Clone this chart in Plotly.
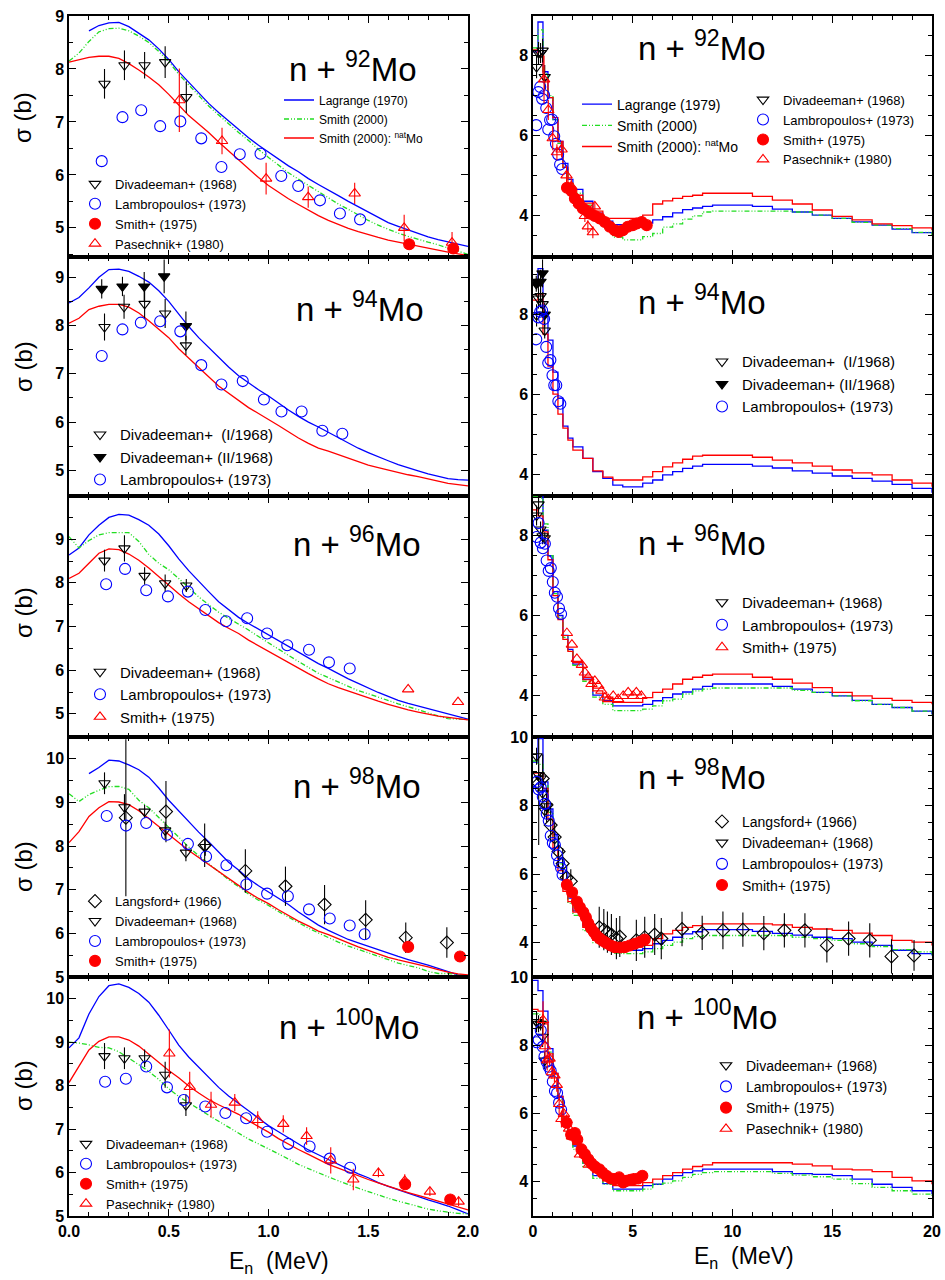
import plotly.graph_objects as go

FONT = "Liberation Sans, Arial, Helvetica, sans-serif"
BLUE = "#0000ff"
RED = "#ff0000"
GREEN = "#22dd22"
BLACK = "#000000"
GDASH = "5px,2px,1px,2px,1px,2px"

# ---------------- energy grids (MeV) ----------------
XL = [0.00, 0.05, 0.10, 0.15, 0.20, 0.25, 0.30, 0.35, 0.40, 0.45, 0.50, 0.55, 0.60, 0.65, 0.70,
      0.75, 0.80, 0.85, 0.90, 0.95, 1.00, 1.05, 1.10, 1.15, 1.20, 1.25, 1.30, 1.35, 1.40, 1.45,
      1.50, 1.55, 1.60, 1.65, 1.70, 1.75, 1.80, 1.85, 1.90, 1.95, 2.00]
XR = [0, 0.25, 0.5, 0.75, 1.0, 1.25, 1.5, 1.75, 2.0, 2.5, 3.0, 3.5, 4.0, 4.5, 5.0, 5.5, 6.0,
      6.5, 7.0, 7.5, 8.0, 8.5, 9.0, 10, 11, 12, 13, 14, 15, 16, 17, 18, 19, 20]

# ---------------- evaluated curves, 0-2 MeV ----------------
L92_LAG = [None, None, 8.72, 8.82, 8.87, 8.88, 8.80, 8.68, 8.55, 8.38, 8.18, 7.95, 7.75, 7.53, 7.35,
           7.18, 7.02, 6.85, 6.70, 6.56, 6.43, 6.30, 6.17, 6.06, 5.93, 5.82, 5.72, 5.61, 5.50, 5.40,
           5.29, 5.19, 5.10, 5.03, 4.96, 4.89, 4.83, 4.78, 4.74, 4.70, 4.65]
L92_S00 = [8.15, 8.30, 8.52, 8.70, 8.76, 8.77, 8.72, 8.62, 8.50, 8.33, 8.14, 7.90, 7.70, 7.50, 7.30,
           7.13, 6.96, 6.80, 6.65, 6.48, 6.33, 6.18, 6.04, 5.92, 5.80, 5.68, 5.57, 5.45, 5.35, 5.24,
           5.14, 5.05, 4.97, 4.90, 4.84, 4.78, 4.73, 4.68, 4.62, 4.56, 4.50]
L92_NAT = [8.13, 8.17, 8.22, 8.24, 8.24, 8.20, 8.10, 7.98, 7.85, 7.70, 7.52, 7.32, 7.12, 6.96, 6.80,
           6.62, 6.45, 6.28, 6.12, 5.95, 5.80, 5.67, 5.55, 5.44, 5.33, 5.23, 5.14, 5.06, 4.99, 4.93,
           4.87, 4.82, 4.77, 4.73, 4.69, 4.65, 4.61, 4.58, 4.54, 4.51, 4.48]

L94_LAG = [8.47, 8.58, 8.78, 9.00, 9.16, 9.17, 9.12, 9.02, 8.90, 8.72, 8.50, 8.24, 7.98, 7.75, 7.54,
           7.33, 7.14, 6.96, 6.81, 6.67, 6.54, 6.39, 6.25, 6.12, 6.00, 5.90, 5.79, 5.68, 5.56, 5.46,
           5.37, 5.28, 5.20, 5.12, 5.05, 4.99, 4.93, 4.88, 4.83, 4.81, 4.80]
L94_NAT = [8.05, 8.15, 8.33, 8.40, 8.44, 8.44, 8.38, 8.26, 8.10, 7.93, 7.75, 7.52, 7.32, 7.13, 6.94,
           6.75, 6.60, 6.45, 6.30, 6.18, 6.06, 5.93, 5.80, 5.67, 5.56, 5.46, 5.40, 5.33, 5.25, 5.18,
           5.11, 5.06, 5.01, 4.95, 4.91, 4.87, 4.83, 4.78, 4.73, 4.70, 4.68]

L96_LAG = [8.64, 8.80, 9.10, 9.32, 9.50, 9.57, 9.55, 9.45, 9.32, 9.12, 8.85, 8.55, 8.28, 8.03, 7.80,
           7.57, 7.38, 7.21, 7.07, 6.94, 6.81, 6.67, 6.54, 6.41, 6.28, 6.15, 6.04, 5.92, 5.80, 5.70,
           5.59, 5.49, 5.40, 5.31, 5.24, 5.18, 5.11, 5.05, 4.99, 4.93, 4.88]
L96_S00 = [9.06, 8.80, 8.97, 9.10, 9.15, 9.15, 9.15, 8.95, 8.65, 8.45, 8.30, 8.10, 7.88, 7.68, 7.50,
           7.33, 7.19, 7.06, 6.92, 6.77, 6.62, 6.48, 6.34, 6.20, 6.06, 5.93, 5.83, 5.73, 5.62, 5.53,
           5.46, 5.38, 5.30, 5.23, 5.16, 5.10, 5.02, 4.96, 4.89, 4.88, 4.87]
L96_NAT = [8.10, 8.22, 8.45, 8.68, 8.78, 8.76, 8.66, 8.52, 8.34, 8.14, 7.93, 7.75, 7.57, 7.41, 7.25,
           7.09, 6.96, 6.84, 6.69, 6.56, 6.43, 6.31, 6.18, 6.04, 5.92, 5.80, 5.69, 5.60, 5.52, 5.44,
           5.37, 5.29, 5.22, 5.15, 5.09, 5.04, 4.99, 4.95, 4.92, 4.89, 4.86]

L98_LAG = [None, None, 9.66, 9.80, 9.97, 9.95, 9.86, 9.75, 9.58, 9.33, 9.05, 8.80, 8.55, 8.32, 8.10,
           7.86, 7.63, 7.45, 7.25, 7.09, 6.95, 6.81, 6.66, 6.49, 6.33, 6.19, 6.07, 5.96, 5.86, 5.78,
           5.70, 5.62, 5.54, 5.47, 5.40, 5.34, 5.27, 5.20, 5.13, 5.05, 5.02]
L98_S00 = [9.20, 9.02, 9.18, 9.28, 9.36, 9.37, 9.30, 9.05, 8.88, 8.65, 8.42, 8.20, 7.98, 7.78, 7.60,
           7.40, 7.23, 7.07, 6.90, 6.76, 6.64, 6.50, 6.37, 6.24, 6.12, 6.01, 5.90, 5.80, 5.71, 5.63,
           5.55, 5.47, 5.39, 5.32, 5.26, 5.21, 5.13, 5.08, 5.08, 5.05, 5.03]
L98_NAT = [8.08, 8.33, 8.68, 8.88, 9.02, 9.01, 8.95, 8.81, 8.63, 8.44, 8.25, 8.08, 7.90, 7.74, 7.57,
           7.41, 7.26, 7.11, 6.94, 6.80, 6.68, 6.54, 6.40, 6.28, 6.17, 6.05, 5.97, 5.87, 5.78, 5.69,
           5.61, 5.52, 5.45, 5.39, 5.34, 5.29, 5.23, 5.17, 5.11, 5.07, 5.05]

L100_LAG = [8.87, 9.10, 9.65, 10.05, 10.30, 10.34, 10.26, 10.12, 9.92, 9.62, 9.28, 8.93, 8.66, 8.42,
            8.18, 7.96, 7.76, 7.58, 7.42, 7.25, 7.08, 6.94, 6.80, 6.65, 6.52, 6.41, 6.30, 6.19, 6.07,
            5.97, 5.88, 5.77, 5.68, 5.60, 5.52, 5.44, 5.37, 5.30, 5.23, 5.14, 5.05]
L100_S00 = [9.00, 8.98, 8.94, 8.88, 8.87, 8.78, 8.63, 8.48, 8.33, 8.14, 7.93, 7.75, 7.60, 7.45, 7.32,
            7.18, 7.04, 6.91, 6.77, 6.66, 6.55, 6.43, 6.31, 6.19, 6.09, 5.99, 5.90, 5.81, 5.72, 5.64,
            5.56, 5.48, 5.41, 5.34, 5.28, 5.21, 5.16, 5.12, 5.09, 5.06, 5.05]
L100_NAT = [8.07, 8.45, 8.82, 9.02, 9.12, 9.12, 9.05, 8.91, 8.72, 8.54, 8.35, 8.18, 7.99, 7.83, 7.68,
            7.56, 7.45, 7.34, 7.19, 7.06, 6.93, 6.78, 6.65, 6.53, 6.42, 6.30, 6.19, 6.10, 6.01, 5.92,
            5.84, 5.76, 5.68, 5.61, 5.54, 5.48, 5.41, 5.34, 5.27, 5.20, 5.14]

# ---------------- evaluated curves, 0-20 MeV ----------------
R92_LAG = [8.1, 8.85, 7.6, 6.95, 6.4, 5.85, 5.3, 4.9, 4.65, 4.35, 4.05, 3.85, 3.76, 3.75, 3.75, 3.8,
           3.88, 3.96, 4.06, 4.14, 4.18, 4.22, 4.25, 4.25, 4.22, 4.15, 4.08, 4.0, 3.92, 3.83, 3.75,
           3.65, 3.56, 3.54]
R92_NAT = [8.15, 8.0, 7.4, 6.95, 6.45, 5.85, 5.2, 4.8, 4.5, 4.3, 4.1, 3.92, 3.92, 3.92, 3.92, 4.0,
           4.28, 4.36, 4.42, 4.47, 4.5, 4.55, 4.55, 4.55, 4.47, 4.38, 4.28, 4.13, 3.97, 3.88, 3.78,
           3.74, 3.68, 3.62]
R92_S00 = [8.2, 8.65, 7.55, 7.0, 6.4, 5.8, 5.2, 4.8, 4.55, 4.25, 3.95, 3.7, 3.45, 3.38, 3.38, 3.46,
           3.54, 3.7, 3.78, 3.9, 3.98, 4.08, 4.1, 4.1, 4.1, 4.1, 4.08, 4.0, 3.92, 3.82, 3.75, 3.66,
           3.57, 3.5]
R94_LAG = [8.85, 9.14, 8.0, 7.35, 6.55, 5.9, 5.2, 4.9, 4.68, 4.39, 4.06, 3.89, 3.72, 3.68, 3.68,
           3.77, 3.85, 3.98, 4.06, 4.14, 4.2, 4.24, 4.24, 4.24, 4.2, 4.15, 4.08, 4.02, 3.95, 3.89,
           3.82, 3.74, 3.64, 3.53]
R94_NAT = [8.35, 8.5, 7.5, 6.7, 6.0, 5.5, 5.15, 4.85, 4.6, 4.39, 4.08, 3.92, 3.85, 3.85, 3.85, 3.93,
           4.06, 4.18, 4.28, 4.37, 4.45, 4.47, 4.47, 4.47, 4.42, 4.35, 4.28, 4.2, 4.1, 4.03, 3.98,
           3.85, 3.77, 3.68]
R96_LAG = [9.1, 9.1, 8.14, 7.5, 6.6, 6.0, 5.5, 5.15, 4.78, 4.4, 4.0, 3.86, 3.73, 3.73, 3.73, 3.77,
           3.86, 3.94, 4.03, 4.08, 4.15, 4.22, 4.28, 4.28, 4.28, 4.22, 4.15, 4.07, 3.98, 3.87, 3.77,
           3.69, 3.6, 3.52]
R96_NAT = [8.65, 8.5, 8.1, 7.4, 6.5, 5.9, 5.4, 5.1, 4.82, 4.45, 4.11, 3.95, 3.82, 3.82, 3.82, 3.94,
           4.07, 4.15, 4.28, 4.4, 4.45, 4.5, 4.53, 4.53, 4.45, 4.4, 4.3, 4.19, 4.07, 3.98, 3.92, 3.87,
           3.82, 3.77]
R96_S00 = [9.0, 8.95, 8.3, 7.5, 6.55, 5.95, 5.45, 5.1, 4.75, 4.35, 3.95, 3.77, 3.61, 3.61, 3.61, 3.65,
           3.73, 3.86, 3.9, 4.03, 4.11, 4.15, 4.18, 4.18, 4.18, 4.18, 4.12, 4.07, 3.98, 3.86, 3.77,
           3.69, 3.6, 3.5]
R98_LAG = [9.27, 9.95, 8.69, 7.9, 7.15, 6.45, 5.75, 5.3, 4.93, 4.5, 4.12, 3.95, 3.8, 3.78, 3.78, 3.83,
           3.97, 4.07, 4.16, 4.26, 4.32, 4.38, 4.38, 4.38, 4.33, 4.27, 4.22, 4.16, 4.12, 4.02, 3.92,
           3.78, 3.68, 3.63]
R98_NAT = [8.95, 8.95, 8.5, 7.6, 6.77, 6.1, 5.5, 5.2, 4.89, 4.45, 4.07, 3.9, 3.87, 3.87, 3.87, 3.92,
           4.12, 4.26, 4.36, 4.45, 4.5, 4.55, 4.55, 4.55, 4.55, 4.52, 4.45, 4.4, 4.36, 4.28, 4.21,
           4.07, 4.02, 3.92]
R98_S00 = [9.3, 9.2, 8.6, 7.8, 7.0, 6.3, 5.6, 5.15, 4.8, 4.35, 4.0, 3.85, 3.7, 3.68, 3.68, 3.73, 3.83,
           3.92, 4.02, 4.12, 4.18, 4.21, 4.21, 4.21, 4.21, 4.21, 4.16, 4.12, 4.07, 3.97, 3.89, 3.8,
           3.73, 3.63]
R100_LAG = [9.9, 9.6, 9.0, 7.9, 7.18, 6.5, 5.82, 5.34, 5.05, 4.55, 4.18, 3.95, 3.79, 3.79, 3.79, 3.89,
            3.93, 4.08, 4.18, 4.27, 4.32, 4.37, 4.37, 4.37, 4.37, 4.3, 4.24, 4.22, 4.18, 4.08, 3.93,
            3.84, 3.74, 3.64]
R100_NAT = [9.05, 9.0, 8.63, 7.75, 7.18, 6.5, 5.82, 5.43, 5.1, 4.62, 4.27, 4.03, 3.89, 3.89, 3.89,
            3.98, 4.08, 4.18, 4.27, 4.37, 4.45, 4.5, 4.56, 4.56, 4.56, 4.56, 4.52, 4.47, 4.37, 4.35,
            4.3, 4.13, 4.03, 3.93]
R100_S00 = [8.92, 8.9, 8.7, 7.8, 7.05, 6.4, 5.7, 5.25, 4.95, 4.45, 4.1, 3.93, 3.74, 3.74, 3.74, 3.79,
            3.93, 3.96, 4.03, 4.13, 4.22, 4.27, 4.3, 4.3, 4.3, 4.25, 4.2, 4.15, 4.08, 3.95, 3.84, 3.74,
            3.64, 3.55]

# ---------------- measurements ----------------
DIV92_X = [0.178, 0.278, 0.379, 0.482, 0.588]
DIV92_Y = [7.72, 8.07, 8.07, 8.13, 7.47]
DIV92_E = [0.28, 0.28, 0.25, 0.30, 0.30]
LAM92_X = [0.164, 0.268, 0.362, 0.457, 0.558, 0.663, 0.764, 0.856, 0.96, 1.064, 1.149, 1.258, 1.358, 1.459]
LAM92_Y = [6.26, 7.09, 7.22, 6.92, 7.01, 6.69, 6.15, 6.39, 6.40, 5.98, 5.79, 5.52, 5.27, 5.16]
SMI92_X = [1.705, 1.926, 2.1, 2.3, 2.5, 2.7, 2.85, 3.1, 3.35, 3.6, 3.85, 4.1, 4.3, 4.5, 4.75, 5.0, 5.2, 5.45, 5.7]
SMI92_Y = [4.69, 4.61, 4.42, 4.29, 4.17, 4.11, 4.04, 3.98, 3.92, 3.83, 3.71, 3.62, 3.58, 3.62, 3.71, 3.75, 3.79, 3.83, 3.75]
PAS92_X = [0.553, 0.767, 0.988, 1.199, 1.432, 1.68, 1.92, 2.3, 2.6, 2.75, 3.0, 3.1]
PAS92_Y = [7.41, 6.64, 5.93, 5.58, 5.65, 5.00, 4.72, 4.30, 3.98, 3.72, 3.57, 4.22]
PAS92_E = [0.6, 0.25, 0.3, 0.2, 0.2, 0.25, 0.2, 0.15, 0.15, 0.15, 0.15, 0.1]

DIV94A_X = [0.178, 0.276, 0.379, 0.482, 0.586]
DIV94A_Y = [7.97, 8.39, 8.45, 8.25, 7.59]
DIV94A_E = [0.28, 0.25, 0.3, 0.3, 0.2]
DIV94B_X = [0.164, 0.268, 0.377, 0.477, 0.586]
DIV94B_Y = [8.76, 8.81, 8.81, 9.02, 7.99]
DIV94B_E = [0.2, 0.2, 0.3, 0.35, 0.3]
LAM94_X = [0.164, 0.268, 0.36, 0.457, 0.558, 0.663, 0.764, 0.871, 0.977, 1.065, 1.166, 1.27, 1.37]
LAM94_Y = [7.37, 7.92, 8.06, 8.09, 7.88, 7.18, 6.78, 6.85, 6.47, 6.22, 6.22, 5.82, 5.76]

DIV96_X = [0.178, 0.278, 0.379, 0.482, 0.588]
DIV96_Y = [8.51, 8.79, 8.16, 7.99, 7.94]
DIV96_E = [0.25, 0.3, 0.2, 0.2, 0.15]
LAM96_X = [0.186, 0.281, 0.387, 0.496, 0.596, 0.683, 0.787, 0.893, 0.993, 1.094, 1.203, 1.303, 1.407]
LAM96_Y = [7.97, 8.32, 7.83, 7.69, 7.80, 7.38, 7.12, 7.19, 6.84, 6.57, 6.47, 6.18, 6.04]
SMT96_X = [1.70, 1.95, 2.2, 2.45, 2.6, 2.77, 2.93, 3.1, 3.27, 3.43, 3.6, 3.77, 4.02, 4.27, 4.52, 4.77, 5.02, 5.18, 5.43]
SMT96_Y = [5.56, 5.27, 4.91, 4.76, 4.57, 4.45, 4.28, 4.36, 4.24, 4.11, 3.94, 3.90, 3.98, 3.90, 3.98, 4.07, 3.98, 4.07, 3.98]

LAN98_X = [0.285, 0.486, 0.68, 0.884, 1.085, 1.281, 1.487, 1.688, 1.894, 3.32, 3.55, 3.73, 3.93, 4.18,
           4.35, 5.18, 5.6, 6.1, 6.43, 7.47, 8.48, 9.52, 10.52, 11.57, 12.6, 13.63, 14.73, 15.82, 16.88,
           17.97, 19.1]
LAN98_Y = [8.65, 8.79, 8.02, 7.43, 7.08, 6.66, 6.31, 5.90, 5.79, 4.45, 4.38, 4.31, 4.24, 4.12, 4.18,
           4.07, 4.16, 4.24, 4.12, 4.40, 4.29, 4.36, 4.38, 4.28, 4.36, 4.36, 3.92, 4.12, 4.07, 3.60, 3.63]
LAN98_E = [1.8, 0.7, 0.5, 0.5, 0.45, 0.45, 0.45, 0.35, 0.35, 0.6, 0.6, 0.6, 0.6, 0.6, 0.6, 0.6, 0.6,
           0.6, 0.6, 0.5, 0.5, 0.55, 0.5, 0.5, 0.5, 0.5, 0.5, 0.5, 0.5, 0.5, 0.45]
DIV98_X = [0.178, 0.278, 0.379, 0.482, 0.586, 0.683]
DIV98_Y = [9.44, 8.89, 8.79, 8.36, 7.85, 7.98]
DIV98_E = [0.25, 0.3, 0.15, 0.2, 0.2, 0.2]
LAM98_X = [0.189, 0.286, 0.387, 0.491, 0.596, 0.687, 0.789, 0.889, 0.993, 1.097, 1.203, 1.307, 1.407, 1.482]
LAM98_Y = [8.69, 8.47, 8.53, 8.26, 8.05, 7.76, 7.56, 7.12, 6.91, 6.85, 6.55, 6.34, 6.18, 5.98]
SMI98_X = [1.70, 1.96, 2.2, 2.35, 2.52, 2.65, 2.77, 2.9, 3.05, 3.18, 3.35, 3.52, 3.68, 3.9, 4.1, 4.35,
           4.6, 4.85, 5.1, 5.35, 5.6]
SMI98_Y = [5.69, 5.47, 5.20, 5.03, 4.89, 4.74, 4.57, 4.43, 4.31, 4.21, 4.12, 4.05, 3.99, 3.92, 3.87,
           3.86, 3.87, 3.92, 3.97, 4.02, 4.09]

DIV100_X = [0.178, 0.278, 0.379, 0.482, 0.586]
DIV100_Y = [8.68, 8.63, 8.63, 8.25, 7.55]
DIV100_E = [0.3, 0.25, 0.2, 0.3, 0.25]
LAM100_X = [0.181, 0.285, 0.387, 0.491, 0.575, 0.683, 0.784, 0.888, 0.993, 1.099, 1.206, 1.307, 1.409]
LAM100_Y = [8.09, 8.16, 8.44, 7.96, 7.67, 7.52, 7.37, 7.25, 6.94, 6.66, 6.60, 6.32, 6.11]
SMI100_X = [1.685, 1.911, 2.1, 2.22, 2.43, 2.6, 2.77, 2.93, 3.1, 3.32, 3.48, 3.68, 3.9, 4.1, 4.32, 4.52,
            4.68, 4.88, 5.05, 5.27, 5.48]
SMI100_Y = [5.73, 5.38, 5.43, 5.24, 4.95, 4.81, 4.66, 4.54, 4.45, 4.37, 4.27, 4.18, 4.10, 4.08, 4.13,
            3.98, 4.03, 4.06, 4.08, 4.10, 4.18]
PAS100_X = [0.503, 0.605, 0.712, 0.831, 0.946, 1.074, 1.191, 1.312, 1.425, 1.551, 1.683, 1.809, 1.953, 2.35, 2.8]
PAS100_Y = [8.74, 7.97, 7.56, 7.61, 7.21, 7.12, 6.84, 6.28, 5.84, 5.99, 5.81, 5.56, 5.33, 4.80, 4.50]
PAS100_E = [0.55, 0.35, 0.3, 0.2, 0.2, 0.2, 0.2, 0.3, 0.25, 0.1, 0.15, 0.1, 0.1, 0.1, 0.1]

ISOTOPES = ["92", "94", "96", "98", "100"]
XL_TICKFORMAT = ".1f"

# ---------------- page geometry ----------------
W, H = 945, 1280
ML, MR, MT, MB = 69, 13, 16, 64
PW = W - ML - MR
PH = H - MT - MB
ROW_EDGES = [16, 257, 496, 737, 977, 1216]
YR_LEFT = [[4.45, 9.0], [4.47, 9.42], [4.47, 9.99], [5.0, 10.5], [5.0, 10.5]]
YR_RIGHT = [[2.95, 9.0], [3.45, 9.43], [2.95, 9.0], [3.0, 10.0], [3.0, 10.0]]


def px_x(px):
    return (px - ML) / PW


def px_y(py):
    return (H - MB - py) / PH


fig = go.Figure()


def axn(prefix, k):
    return prefix if k == 1 else f"{prefix}{k}"


def step_line(x, y, color, dash, name, k, legend=None):
    shape = "linear" if k % 2 == 1 else "hv"
    fig.add_trace(go.Scatter(
        x=x, y=y, mode="lines", name=name,
        line=dict(color=color, width=1.3, dash=dash, shape=shape),
        xaxis=axn("x", k), yaxis=axn("y", k),
        legend=legend if legend else "legend", showlegend=legend is not None,
        hoverinfo="skip"))


def points(x, y, symbol, color, size, name, k, legend, err=None, ecolor=None, show=True):
    tr = dict(x=x, y=y, mode="markers", name=name,
              marker=dict(symbol=symbol, color=color, size=size, line=dict(color=color, width=1.1)),
              xaxis=axn("x", k), yaxis=axn("y", k), legend=legend, showlegend=show,
              hoverinfo="skip")
    if err is not None:
        tr["error_y"] = dict(type="data", array=err, visible=True, thickness=1.1, width=0,
                             color=ecolor or color)
    fig.add_trace(go.Scatter(**tr))


# ---------- row 1 : 92Mo ----------
step_line(XL, L92_LAG, BLUE, "solid", "Lagrange (1970)", 1, "legend2")
step_line(XL, L92_S00, GREEN, GDASH, "Smith (2000)", 1, "legend2")
step_line(XL, L92_NAT, RED, "solid", "Smith (2000): <sup>nat</sup>Mo", 1, "legend2")
points(DIV92_X, DIV92_Y, "triangle-down-open", BLACK, 10, "Divadeeman+ (1968)", 1, "legend", DIV92_E)
points(LAM92_X, LAM92_Y, "circle-open", BLUE, 11, "Lambropoulos+ (1973)", 1, "legend")
points(SMI92_X, SMI92_Y, "circle", RED, 11, "Smith+ (1975)", 1, "legend")
points(PAS92_X, PAS92_Y, "triangle-up-open", RED, 10, "Pasechnik+ (1980)", 1, "legend", PAS92_E)

step_line(XR, R92_LAG, BLUE, "solid", "Lagrange (1979)", 2, "legend3")
step_line(XR, R92_S00, GREEN, GDASH, "Smith (2000)", 2, "legend3")
step_line(XR, R92_NAT, RED, "solid", "Smith (2000): <sup>nat</sup>Mo", 2, "legend3")
points(DIV92_X, DIV92_Y, "triangle-down-open", BLACK, 10, "Divadeeman+ (1968)", 2, "legend4", DIV92_E)
points(LAM92_X, LAM92_Y, "circle-open", BLUE, 11, "Lambropoulos+ (1973)", 2, "legend4")
points(SMI92_X, SMI92_Y, "circle", RED, 11, "Smith+ (1975)", 2, "legend4")
points(PAS92_X, PAS92_Y, "triangle-up-open", RED, 10, "Pasechnik+ (1980)", 2, "legend4", PAS92_E)

# ---------- row 2 : 94Mo ----------
step_line(XL, L94_LAG, BLUE, "solid", "Lagrange", 3)
step_line(XL, L94_NAT, RED, "solid", "Smith natMo", 3)
points(DIV94A_X, DIV94A_Y, "triangle-down-open", BLACK, 10, "Divadeeman+  (I/1968)", 3, "legend5", DIV94A_E)
points(DIV94B_X, DIV94B_Y, "triangle-down", BLACK, 10, "Divadeeman+ (II/1968)", 3, "legend5", DIV94B_E)
points(LAM94_X, LAM94_Y, "circle-open", BLUE, 11, "Lambropoulos+ (1973)", 3, "legend5")

step_line(XR, R94_LAG, BLUE, "solid", "Lagrange", 4)
step_line(XR, R94_NAT, RED, "solid", "Smith natMo", 4)
points(DIV94A_X, DIV94A_Y, "triangle-down-open", BLACK, 10, "Divadeeman+  (I/1968)", 4, "legend6", DIV94A_E)
points(DIV94B_X, DIV94B_Y, "triangle-down", BLACK, 10, "Divadeeman+ (II/1968)", 4, "legend6", DIV94B_E)
points(LAM94_X, LAM94_Y, "circle-open", BLUE, 11, "Lambropoulos+ (1973)", 4, "legend6")

# ---------- row 3 : 96Mo ----------
step_line(XL, L96_LAG, BLUE, "solid", "Lagrange", 5)
step_line(XL, L96_S00, GREEN, GDASH, "Smith 2000", 5)
step_line(XL, L96_NAT, RED, "solid", "Smith natMo", 5)
points(DIV96_X, DIV96_Y, "triangle-down-open", BLACK, 10, "Divadeeman+ (1968)", 5, "legend7", DIV96_E)
points(LAM96_X, LAM96_Y, "circle-open", BLUE, 11, "Lambropoulos+ (1973)", 5, "legend7")
points(SMT96_X, SMT96_Y, "triangle-up-open", RED, 10, "Smith+ (1975)", 5, "legend7")

step_line(XR, R96_LAG, BLUE, "solid", "Lagrange", 6)
step_line(XR, R96_S00, GREEN, GDASH, "Smith 2000", 6)
step_line(XR, R96_NAT, RED, "solid", "Smith natMo", 6)
points(DIV96_X, DIV96_Y, "triangle-down-open", BLACK, 10, "Divadeeman+ (1968)", 6, "legend8", DIV96_E)
points(LAM96_X, LAM96_Y, "circle-open", BLUE, 11, "Lambropoulos+ (1973)", 6, "legend8")
points(SMT96_X, SMT96_Y, "triangle-up-open", RED, 10, "Smith+ (1975)", 6, "legend8")

# ---------- row 4 : 98Mo ----------
step_line(XL, L98_LAG, BLUE, "solid", "Lagrange", 7)
step_line(XL, L98_S00, GREEN, GDASH, "Smith 2000", 7)
step_line(XL, L98_NAT, RED, "solid", "Smith natMo", 7)
points(LAN98_X, LAN98_Y, "diamond-open", BLACK, 10, "Langsford+ (1966)", 7, "legend9", LAN98_E)
points(DIV98_X, DIV98_Y, "triangle-down-open", BLACK, 10, "Divadeeman+ (1968)", 7, "legend9", DIV98_E)
points(LAM98_X, LAM98_Y, "circle-open", BLUE, 11, "Lambropoulos+ (1973)", 7, "legend9")
points(SMI98_X, SMI98_Y, "circle", RED, 11, "Smith+ (1975)", 7, "legend9")

step_line(XR, R98_LAG, BLUE, "solid", "Lagrange", 8)
step_line(XR, R98_S00, GREEN, GDASH, "Smith 2000", 8)
step_line(XR, R98_NAT, RED, "solid", "Smith natMo", 8)
points(LAN98_X, LAN98_Y, "diamond-open", BLACK, 10, "Langsford+ (1966)", 8, "legend10", LAN98_E)
points(DIV98_X, DIV98_Y, "triangle-down-open", BLACK, 10, "Divadeeman+ (1968)", 8, "legend10", DIV98_E)
points(LAM98_X, LAM98_Y, "circle-open", BLUE, 11, "Lambropoulos+ (1973)", 8, "legend10")
points(SMI98_X, SMI98_Y, "circle", RED, 11, "Smith+ (1975)", 8, "legend10")

# ---------- row 5 : 100Mo ----------
step_line(XL, L100_LAG, BLUE, "solid", "Lagrange", 9)
step_line(XL, L100_S00, GREEN, GDASH, "Smith 2000", 9)
step_line(XL, L100_NAT, RED, "solid", "Smith natMo", 9)
points(DIV100_X, DIV100_Y, "triangle-down-open", BLACK, 10, "Divadeeman+ (1968)", 9, "legend11", DIV100_E)
points(LAM100_X, LAM100_Y, "circle-open", BLUE, 11, "Lambropoulos+ (1973)", 9, "legend11")
points(SMI100_X, SMI100_Y, "circle", RED, 11, "Smith+ (1975)", 9, "legend11")
points(PAS100_X, PAS100_Y, "triangle-up-open", RED, 10, "Pasechnik+ (1980)", 9, "legend11", PAS100_E)

step_line(XR, R100_LAG, BLUE, "solid", "Lagrange", 10)
step_line(XR, R100_S00, GREEN, GDASH, "Smith 2000", 10)
step_line(XR, R100_NAT, RED, "solid", "Smith natMo", 10)
points(DIV100_X, DIV100_Y, "triangle-down-open", BLACK, 10, "Divadeeman+ (1968)", 10, "legend12", DIV100_E)
points(LAM100_X, LAM100_Y, "circle-open", BLUE, 11, "Lambropoulos+ (1973)", 10, "legend12")
points(SMI100_X, SMI100_Y, "circle", RED, 11, "Smith+ (1975)", 10, "legend12")
points(PAS100_X, PAS100_Y, "triangle-up-open", RED, 10, "Pasechnik+ (1980)", 10, "legend12", PAS100_E)

# ---------------- axes ----------------
layout = {}
tickfont = dict(family=FONT, size=16, color=BLACK, weight="bold")
for r in range(5):
    ydom = [px_y(ROW_EDGES[r + 1]), px_y(ROW_EDGES[r])]
    for c in range(2):
        k = r * 2 + c + 1
        left = c == 0
        xdom = [0, px_x(468)] if left else [px_x(533), 1]
        xa = dict(domain=xdom, anchor=axn("y", k),
                  range=[0, 2.0] if left else [0, 20], tickmode="linear", tick0=0,
                  dtick=0.5 if left else 5, tickformat=XL_TICKFORMAT if left else "d",
                  ticks="inside", ticklen=7, tickwidth=1, tickcolor=BLACK,
                  minor=dict(dtick=0.1 if left else 1, ticks="inside", ticklen=4, tickcolor=BLACK, tickwidth=1),
                  showline=True, linecolor=BLACK, linewidth=1.5, mirror="allticks",
                  showgrid=False, zeroline=False, showticklabels=(r == 4), tickfont=tickfont)
        yr = YR_LEFT[r] if left else YR_RIGHT[r]
        ya = dict(domain=ydom, anchor=axn("x", k), range=yr, tickmode="linear", tick0=0,
                  dtick=1 if left else 2, ticks="inside", ticklen=7, tickwidth=1, tickcolor=BLACK,
                  minor=dict(dtick=0.5, ticks="inside", ticklen=4, tickcolor=BLACK, tickwidth=1),
                  showline=True, linecolor=BLACK, linewidth=1.5, mirror="allticks",
                  showgrid=False, zeroline=False, tickfont=tickfont)
        layout[axn("xaxis", k)] = xa
        layout[axn("yaxis", k)] = ya


# ---------------- legends ----------------
def legend_box(sym_px, mean_row_px, n, fs):
    h = max(1.3 * fs, 16) + 3
    top = mean_row_px - 5 - n * h / 2
    return dict(x=px_x(sym_px - 20), y=px_y(top), xanchor="left", yanchor="top",
                bgcolor="rgba(0,0,0,0)", borderwidth=0, itemwidth=30, tracegroupgap=0,
                font=dict(family=FONT, size=fs, color=BLACK))


layout["legend"] = legend_box(95, 213.75, 4, 13)
layout["legend2"] = legend_box(299, 119, 3, 12)
layout["legend3"] = legend_box(597, 125.3, 3, 14)
layout["legend4"] = legend_box(763, 129.5, 4, 13)
layout["legend5"] = legend_box(100, 457, 3, 15)
layout["legend6"] = legend_box(722, 384, 3, 15)
layout["legend7"] = legend_box(100, 694.3, 3, 15)
layout["legend8"] = legend_box(722, 624.7, 3, 15)
layout["legend9"] = legend_box(95, 931, 4, 13)
layout["legend10"] = legend_box(722, 853.25, 4, 14)
layout["legend11"] = legend_box(86, 1173.75, 4, 13)
layout["legend12"] = legend_box(726, 1097, 4, 14)

# ---------------- annotations ----------------
ann = []
TITLE_POS_L = [(353, 67), (360, 307), (357, 542), (357, 784), (349, 1025)]
TITLE_POS_R = [(702, 46), (702, 300), (702, 541), (702, 775), (707, 1015)]
for r, iso in enumerate(ISOTOPES):
    for (xp, yp) in (TITLE_POS_L[r], TITLE_POS_R[r]):
        ann.append(dict(text=f"n + <sup>{iso}</sup>Mo", x=px_x(xp), y=px_y(yp), xref="paper", yref="paper",
                        xanchor="center", yanchor="middle", showarrow=False,
                        font=dict(family=FONT, size=33, color=BLACK)))
SIG_Y = [118, 367, 613, 867, 1086]
for yp in SIG_Y:
    ann.append(dict(text="σ (b)", x=px_x(23), y=px_y(yp), xref="paper", yref="paper",
                    xanchor="center", yanchor="middle", textangle=-90, showarrow=False,
                    font=dict(family=FONT, size=24, color=BLACK)))
for xp, yp in ((279, 1262), (744, 1257)):
    ann.append(dict(text="E<sub>n</sub>  (MeV)", x=px_x(xp), y=px_y(yp), xref="paper", yref="paper",
                    xanchor="center", yanchor="middle", showarrow=False,
                    font=dict(family=FONT, size=23, color=BLACK)))

fig.update_layout(width=W, height=H, margin=dict(l=ML, r=MR, t=MT, b=MB, autoexpand=False),
                  paper_bgcolor="white", plot_bgcolor="white", showlegend=True,
                  annotations=ann, font=dict(family=FONT, color=BLACK), **layout)

fig.write_html("out.html")
